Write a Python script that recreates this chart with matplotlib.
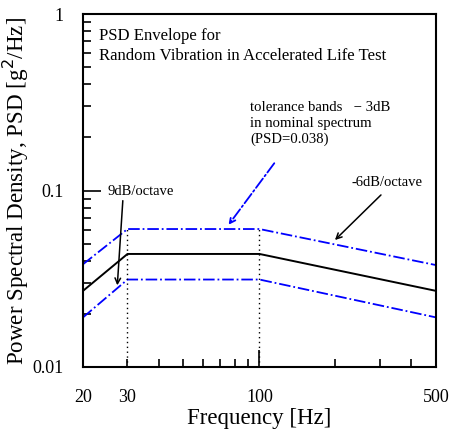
import numpy as np
import matplotlib
matplotlib.use("Agg")
import matplotlib.pyplot as plt
from matplotlib.ticker import FixedLocator, NullFormatter

plt.rcParams['font.family'] = ['Liberation Serif', 'DejaVu Serif']

# values
freq = [20, 30, 100, 500]
nominal = [0.027, 0.0437, 0.0437, 0.027]
upper = [0.0382, 0.0605, 0.0605, 0.0378]
lower = [0.0191, 0.0313, 0.0313, 0.0191]
xtick_vals = [20, 30, 100, 500]
xtick_labels = ['20', '30', '100', '500']
xminor = [40, 50, 60, 70, 80, 90, 200, 300, 400]

fig = plt.figure(figsize=(4.49, 4.32), dpi=100)
ax = fig.add_axes([0.1849, 0.1505, 0.786, 0.817])

ax.plot(freq, nominal, color='black', lw=1.4)
ax.plot(freq, upper, color='blue', lw=1.3, ls='-.')
ax.plot(freq, lower, color='blue', lw=1.3, ls='-.')

# dotted guides at the break frequencies
for f, top in [(freq[1], upper[1]), (freq[2], upper[2])]:
    ax.plot([f, f], [0.01, top], color='black', lw=1.0, ls=(0, (1, 2.5)))

ax.set_xscale('log')
ax.set_yscale('log')
ax.set_xlim(20, 500)
ax.set_ylim(0.01, 1)

ax.xaxis.set_major_locator(FixedLocator(xtick_vals))
ax.set_xticklabels(xtick_labels)
ax.xaxis.set_minor_locator(FixedLocator(xminor))
ax.xaxis.set_minor_formatter(NullFormatter())
ax.set_yticks([0.01, 0.1, 1])
ax.set_yticklabels(['0.01', '0.1', '1'])

ax.tick_params(which='both', direction='in', top=False, right=False,
               width=1.2, labelsize=13)
ax.tick_params(which='major', length=13)
ax.tick_params(which='minor', length=6)
ax.tick_params(axis='x', which='major', pad=16)
ax.tick_params(axis='y', which='major', pad=14)
xt = ax.xaxis.get_major_ticks()
xt[0].tick1line.set_markersize(0)
xt[1].tick1line.set_markersize(6)
xt[2].tick1line.set_markersize(12.5)
xt[3].tick1line.set_markersize(0)
for s in ax.spines.values():
    s.set_linewidth(1.5)

ax.set_xlabel('Frequency [Hz]', fontsize=16.5, labelpad=1)
ax.set_ylabel('Power Spectral Density, PSD [g$^2$/Hz]', fontsize=16.6, labelpad=1)

ax.text(0.045, 0.96, 'PSD Envelope for\nRandom Vibration in Accelerated Life Test',
        transform=ax.transAxes, fontsize=12.1, va='top', ha='left', linespacing=1.3)
ax.text(0.473, 0.755, 'tolerance bands   \u2212 3dB\nin nominal spectrum\n(PSD=0.038)',
        transform=ax.transAxes, fontsize=10.6, va='top', ha='left', linespacing=1.3)

ax.annotate('', xy=(27.3, 0.028), xytext=(28.8, 0.0908),
            arrowprops=dict(arrowstyle='->', color='black', lw=1.1))
ax.text(25.1, 0.0985, '9dB/octave', fontsize=10.5, ha='left', va='center')

ax.annotate('', xy=(195.5, 0.0511), xytext=(308.4, 0.0968),
            arrowprops=dict(arrowstyle='->', color='black', lw=1.1))
ax.text(0.962, 0.522, '-6dB/octave', transform=ax.transAxes, fontsize=10.5,
        ha='right', va='center')

ax.annotate('', xy=(74.3, 0.0621), xytext=(116.2, 0.147),
            arrowprops=dict(arrowstyle='->', color='blue', lw=1.3, ls='-.'))

fig.savefig('out.png', dpi=100)
